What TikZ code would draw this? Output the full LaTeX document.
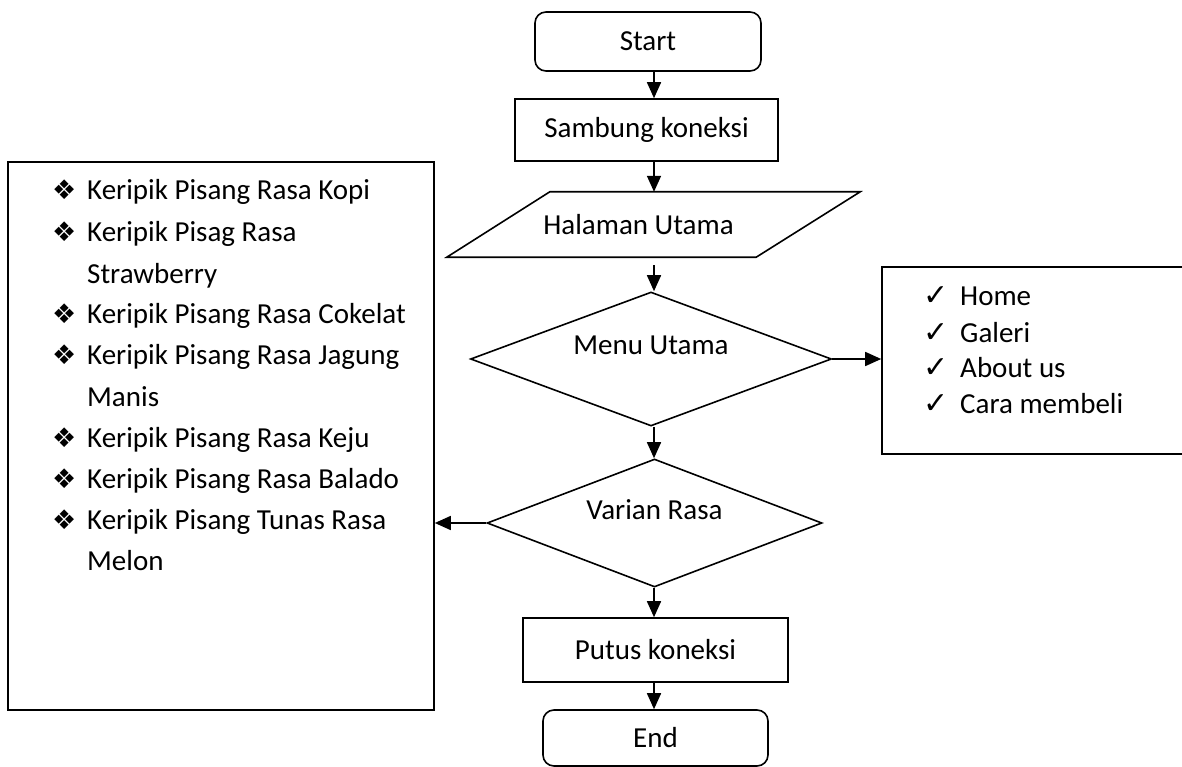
\documentclass[tikz,border=0pt]{standalone}
\usepackage{fontspec}
\setmainfont{Carlito}
\newfontfamily\symfont{DejaVu Sans}
\usetikzlibrary{arrows.meta,shapes.geometric}
\newcommand{\diabullet}{\makebox[35pt][l]{\symfont\fontsize{27}{27}\selectfont ❖}}
\newcommand{\chkmark}{\makebox[37pt][l]{\symfont\fontsize{30}{30}\selectfont ✓}}
\begin{document}
\begin{tikzpicture}[x=1pt,y=-1pt,
  every node/.style={font=\fontsize{29}{35}\selectfont, inner sep=0pt},
  arr/.style={line width=1.6pt, -{Triangle[length=16pt,width=14pt]}},
  box/.style={draw, line width=1.6pt, rectangle},
  term/.style={box, rounded corners=11pt},
  decision/.style={draw, line width=1.6pt, diamond},
  item/.style={anchor=base west},
]
\useasboundingbox (0,0) rectangle (1182,767);
\coordinate (axis) at (654,0);

% main flow
\node[term, minimum width=226pt, minimum height=59pt] (start) at (648,41.5) {Start};
\node[box, minimum width=263pt, minimum height=62pt] (sambung) at (646.5,130) {Sambung koneksi};
\node[minimum width=413pt, minimum height=65pt,
      label={[xshift=-15pt]center:Halaman Utama}] (halaman) at (653.5,224.5) {};
\draw[line width=1.6pt] ([xshift=103pt]halaman.north west) -- (halaman.north east)
  -- ([xshift=-104pt]halaman.south east) -- (halaman.south west) -- cycle;
\node[decision, minimum width=361pt, minimum height=134pt,
      label={[yshift=14pt]center:Menu Utama}] (menu) at (651,359) {};
\node[decision, minimum width=335pt, minimum height=128pt,
      label={[yshift=13pt]center:Varian Rasa}] (varian) at (654.5,523) {};
\node[box, minimum width=265pt, minimum height=64pt] (putus) at (655.5,650) {Putus koneksi};
\node[term, minimum width=225pt, minimum height=56pt] (end) at (655.5,738) {End};

% side boxes
\node[box, minimum width=310pt, minimum height=187pt] (menulist) at (1037,360.5) {};
\node[box, minimum width=426pt, minimum height=548pt] (flavours) at (221,436) {};

% menu items
\node[item] (m1) at (923,305) {\chkmark Home};
\node[item] (m2) at (923,342) {\chkmark Galeri};
\node[item] (m3) at (923,377) {\chkmark About us};
\node[item] (m4) at (923,413) {\chkmark Cara membeli};

% flavour items
\node[item] (f1)  at (52,200) {\diabullet Keripik Pisang Rasa Kopi};
\node[item] (f2)  at (52,242) {\diabullet Keripik Pisag Rasa};
\node[item] (f2b) at (87,283) {Strawberry};
\node[item] (f3)  at (52,323) {\diabullet Keripik Pisang Rasa Cokelat};
\node[item] (f4)  at (52,364) {\diabullet Keripik Pisang Rasa Jagung};
\node[item] (f4b) at (87,406) {Manis};
\node[item] (f5)  at (52,447) {\diabullet Keripik Pisang Rasa Keju};
\node[item] (f6)  at (52,488) {\diabullet Keripik Pisang Rasa Balado};
\node[item] (f7)  at (52,529) {\diabullet Keripik Pisang Tunas Rasa};
\node[item] (f7b) at (87,570) {Melon};

% connectors
\draw[arr] (axis |- start.south) -- (axis |- sambung.north);
\draw[arr] (axis |- sambung.south) -- (axis |- halaman.north);
\draw[arr] ([yshift=-8pt]axis |- halaman.south) -- (axis |- menu.north);
\draw[arr] (axis |- menu.south) -- (axis |- varian.north);
\draw[arr] (axis |- varian.south) -- (axis |- putus.north);
\draw[arr] (axis |- putus.south) -- (axis |- end.north);
\draw[arr] (menu.east) -- (menu.east -| menulist.west);
\draw[arr] (varian.west) -- (varian.west -| flavours.east);
\end{tikzpicture}
\end{document}
